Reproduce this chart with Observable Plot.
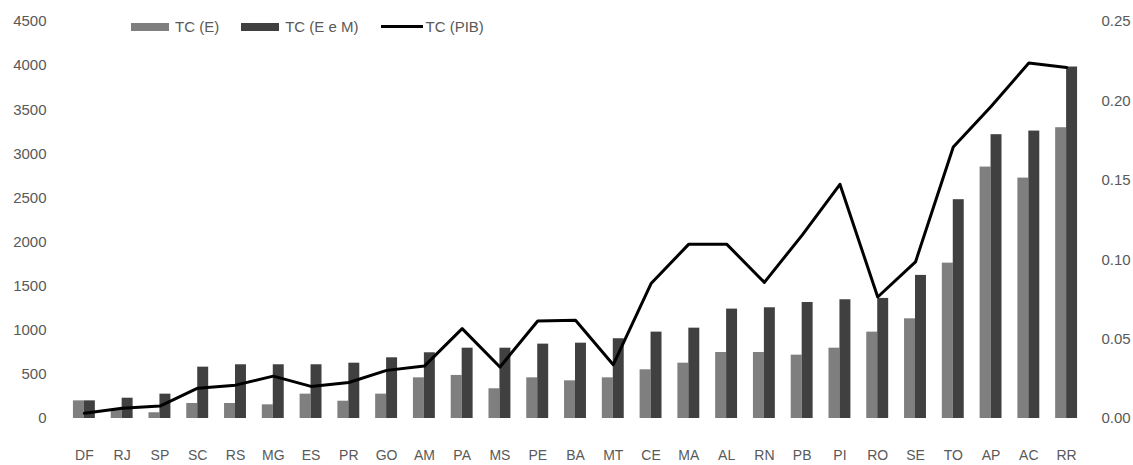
<!DOCTYPE html>
<html>
<head>
<meta charset="utf-8">
<script src="https://cdn.jsdelivr.net/npm/d3@7"></script>
<script src="https://cdn.jsdelivr.net/npm/@observablehq/plot@0.6"></script>
<style>
  body { margin: 0; background: #fff; }
  #wrap { position: relative; width: 1133px; height: 465px; font-family: "Liberation Sans", Arial, sans-serif; }
  #legend { position: absolute; top: 18px; left: 131px; display: flex; align-items: center; font-size: 15px; color: #595959; }
  #legend .item { display: flex; align-items: center; margin-right: 22px; }
  #legend .sw { display: inline-block; width: 38px; height: 8px; margin-right: 6px; }
  #legend .ln { display: inline-block; width: 42px; height: 3px; background: #000; margin-right: 3px; }
</style>
</head>
<body>
<div id="wrap">
  <div id="chart"></div>
  <div id="legend"></div>
</div>
<script>
// Brazilian states, ordered by TC (PIB)
const states = ["DF","RJ","SP","SC","RS","MG","ES","PR","GO","AM","PA","MS","PE","BA","MT","CE","MA","AL","RN","PB","PI","RO","SE","TO","AP","AC","RR"];
// TC (E) — left axis
const tcE = [200, 100, 65, 170, 170, 155, 276, 196, 276, 461, 488, 337, 461, 427, 461, 552, 627, 748, 748, 718, 797, 979, 1130, 1761, 2850, 2725, 3296];
// TC (E e M) — left axis
const tcEM = [200, 230, 276, 582, 609, 609, 609, 627, 688, 745, 797, 797, 843, 854, 904, 979, 1024, 1240, 1255, 1315, 1346, 1361, 1622, 2480, 3217, 3258, 3984];
// TC (PIB) — right axis
const tcPIB = [0.0033, 0.0065, 0.0078, 0.0191, 0.021, 0.0267, 0.0202, 0.0227, 0.0303, 0.033, 0.0566, 0.0324, 0.0614, 0.0619, 0.0339, 0.085, 0.1098, 0.1098, 0.0857, 0.1155, 0.1475, 0.0765, 0.0986, 0.171, 0.1965, 0.2238, 0.221];
const leftTicks = [0, 500, 1000, 1500, 2000, 2500, 3000, 3500, 4000, 4500];
const rightTicks = [0, 0.05, 0.10, 0.15, 0.20, 0.25];
const seriesNames = ["TC (E)", "TC (E e M)", "TC (PIB)"];

const colorE = "#7f7f7f";
const colorEM = "#404040";
const textColor = "#595959";

// the right axis shares the left scale: 0.25 ↔ 4500
const ratio = 4500 / 0.25;

const rows = states.map((s, i) => ({state: s, e: tcE[i], em: tcEM[i], pib: tcPIB[i]}));

const W = 1133, H = 465, ML = 65, MR = 48, MT = 21, MB = 47;
const padIn = 0.42;
const xOpts = {type: "band", domain: states, paddingInner: padIn, paddingOuter: padIn / 2, round: false};
const xs = Plot.scale({x: {...xOpts, range: [ML, W - MR]}});
const half = xs.bandwidth / 2;

const chart = Plot.plot({
  width: W,
  height: H,
  marginLeft: ML,
  marginRight: MR,
  marginTop: MT,
  marginBottom: MB,
  style: {fontFamily: "'Liberation Sans', Arial, sans-serif", fontSize: "15px", color: textColor, background: "#fff"},
  x: {...xOpts, label: null},
  y: {domain: [0, 4500], label: null},
  marks: [
    Plot.axisY({anchor: "left", ticks: leftTicks, tickFormat: d => String(d), tickSize: 0, tickPadding: 19, label: null, fill: textColor}),
    Plot.axisY({anchor: "right", ticks: rightTicks.map(v => v * ratio), tickFormat: d => (d / ratio).toFixed(2), tickSize: 0, tickPadding: 16, label: null, fill: textColor}),
    Plot.axisX({tickSize: 0, tickPadding: 32, fontSize: 14, label: null, fill: textColor}),
    Plot.barY(rows, {x: "state", y: "e", fill: colorE, insetRight: half}),
    Plot.barY(rows, {x: "state", y: "em", fill: colorEM, insetLeft: half}),
    Plot.line(rows, {x: "state", y: d => d.pib * ratio, stroke: "#000", strokeWidth: 3, strokeLinejoin: "round"})
  ]
});
document.getElementById("chart").appendChild(chart);

// legend
const legend = document.getElementById("legend");
const swatches = [
  `<span class="sw" style="background:${colorE}"></span>`,
  `<span class="sw" style="background:${colorEM}"></span>`,
  `<span class="ln"></span>`
];
seriesNames.forEach((name, i) => {
  const el = document.createElement("span");
  el.className = "item";
  el.innerHTML = swatches[i] + `<span>${name}</span>`;
  legend.appendChild(el);
});
</script>
</body>
</html>
